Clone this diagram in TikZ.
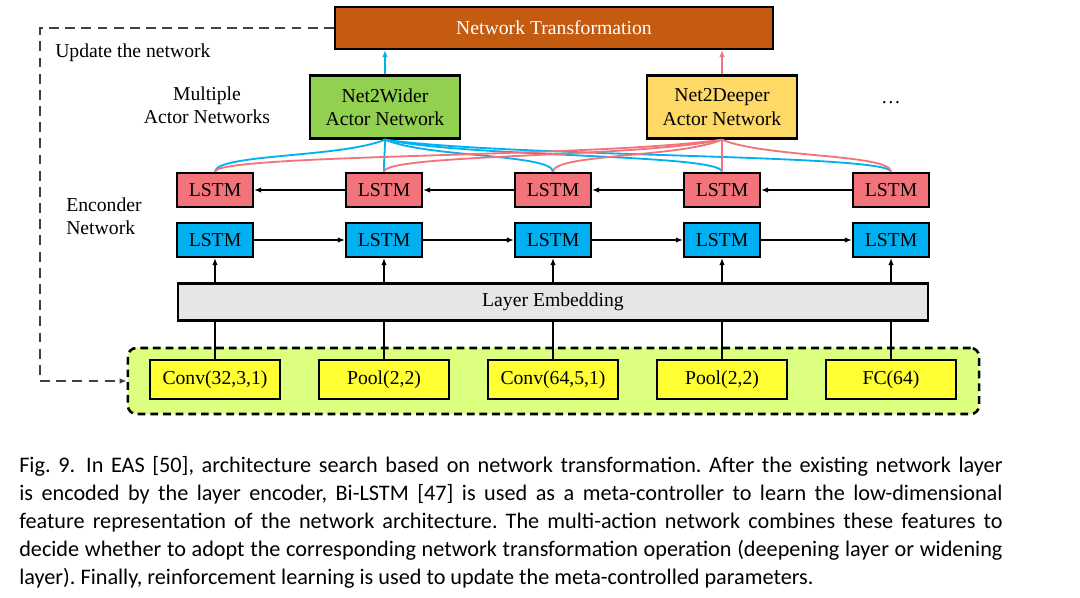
\documentclass[tikz,border=0pt]{standalone}
\usepackage{fontspec}
\setmainfont{Liberation Serif}
\newfontfamily\capfont{Carlito}
\usetikzlibrary{arrows.meta}
\definecolor{ntorange}{HTML}{C55A11}
\definecolor{widegreen}{HTML}{92D050}
\definecolor{deepgold}{HTML}{FFD966}
\definecolor{lstmred}{HTML}{F2747A}
\definecolor{lstmblue}{HTML}{00B0F0}
\definecolor{embgray}{HTML}{E7E6E6}
\definecolor{layerlime}{HTML}{DDFF80}
\definecolor{layeryellow}{HTML}{FFFF33}
\newcommand{\diafont}{\fontsize{14}{16.5}\selectfont}
\tikzset{
  box/.style={draw=black, line width=1.6pt, inner sep=0pt, align=center, font=\diafont},
  lstmbox/.style={box, minimum width=1.9cm, minimum height=0.85cm},
  layerbox/.style={box, fill=layeryellow, minimum width=3.25cm, minimum height=0.975cm},
  embbox/.style={box, fill=embgray, minimum width=18.75cm, minimum height=0.925cm},
  actorbox/.style={box, minimum width=3.75cm, minimum height=1.575cm},
  ntbox/.style={box, fill=ntorange, text=white, minimum width=10.95cm, minimum height=1.05cm},
  layerframe/.style={draw=black, fill=layerlime, line width=1.8pt, dash pattern=on 5.5pt off 3.5pt,
    rounded corners=6pt, minimum width=21.275cm, minimum height=1.65cm},
  wire/.style={black, line width=1pt},
  tip/.style={-{Latex[length=5pt, width=4pt]}},
  bluecurve/.style={lstmblue, line width=1.3pt},
  redcurve/.style={lstmred, line width=1.3pt},
  feedback/.style={black!75, line width=1.4pt, dash pattern=on 7pt off 4.5pt, tip},
  lbl/.style={inner sep=0pt, font=\diafont},
  captxt/.style={inner sep=0pt, text width=24.575cm, align=justify,
    font=\capfont\fontsize{15.8}{19.9}\selectfont\frenchspacing}
}
\begin{document}
\begin{tikzpicture}[x=0.025cm, y=-0.025cm]
  % Rahmen (Pixelraster 1080 x 598)
  \useasboundingbox (0,0) rectangle (1080,598);
  % Definitionen
  \def\colzero{215}
  \def\colstep{169}
  % Eingabeschichten
  \node[layerframe] (frame) at (553.5,381) {};
  \foreach \i/\lab in {1/{Conv(32,3,1)}, 2/{Pool(2,2)}, 3/{Conv(64,5,1)}, 4/{Pool(2,2)}, 5/{FC(64)}} {
    \pgfmathsetmacro{\xc}{\colzero+(\i-1)*\colstep}
    \node[layerbox] (lay\i) at (\xc,379.5) {\lab};
  }
  % Layer Embedding
  \node[embbox] (emb) at (553,302) {Layer Embedding};
  % Encoder-LSTMs
  \foreach \i in {1,...,5} {
    \pgfmathsetmacro{\xc}{\colzero+(\i-1)*\colstep}
    \node[lstmbox, fill=lstmblue] (blue\i) at (\xc,240) {LSTM};
    \node[lstmbox, fill=lstmred] (red\i) at (\xc,190) {LSTM};
    \draw[wire] (lay\i.north) -- (lay\i.north |- emb.south);
    \draw[wire, tip] (blue\i.south |- emb.north) -- (blue\i.south);
  }
  % Pfeile vorwaerts / rueckwaerts
  \foreach \i in {1,...,4} {
    \pgfmathtruncatemacro{\j}{\i+1}
    \draw[wire, tip] (blue\i) -- (blue\j);
    \draw[wire, tip] (red\j) -- (red\i);
  }
  % Actor-Netze und Transformation
  \node[actorbox, fill=widegreen] (wide) at (385,107) {Net2Wider\\Actor Network};
  \node[actorbox, fill=deepgold] (deep) at (722,107) {Net2Deeper\\Actor Network};
  \node[lbl] (more) at (891,103) {\dots};
  \node[ntbox] (nt) at (554,28) {Network Transformation};
  \draw[bluecurve, tip] (wide.north) -- (wide.north |- nt.south);
  \draw[redcurve, tip] (deep.north) -- (deep.north |- nt.south);
  % Verbindungen LSTM -> Actor
  \foreach \i in {1,...,5} {
    \pgfmathsetmacro{\dw}{\colzero+(\i-1)*\colstep-385}
    \draw[bluecurve] (wide.south) .. controls +({0.25*\dw},18) and +(0,-18) .. (red\i.north);
  }
  \foreach \i in {1,...,5} {
    \pgfmathsetmacro{\dd}{\colzero+(\i-1)*\colstep-722}
    \draw[redcurve] (deep.south) .. controls +({0.25*\dd},18) and +(0,-18) .. (red\i.north);
  }
  % Rueckkopplung
  \coordinate (turn) at (40,381);
  \draw[feedback] (nt.west) -| (turn) -- (frame.west);
  % Beschriftungen
  \node[lbl, anchor=west] (upd) at (55,53) {Update the network};
  \node[lbl, align=center] (multi) at (207,105) {Multiple\\Actor Networks};
  \node[lbl, align=left, anchor=west] (enc) at (66,216) {Enconder\\Network};
  % Bildunterschrift
  \node[captxt, anchor=north west] (cap) at (19,456) {Fig.~9.\enspace In EAS [50], architecture search based on network transformation. After the existing network layer\linebreak
    is encoded by the layer encoder, Bi-LSTM [47] is used as a meta-controller to learn the low-dimensional\linebreak
    feature representation of the network architecture. The multi-action network combines these features to\linebreak
    decide whether to adopt the corresponding network transformation operation (deepening layer or widening\linebreak
    layer). Finally, reinforcement learning is used to update the meta-controlled parameters.};
\end{tikzpicture}
\end{document}
